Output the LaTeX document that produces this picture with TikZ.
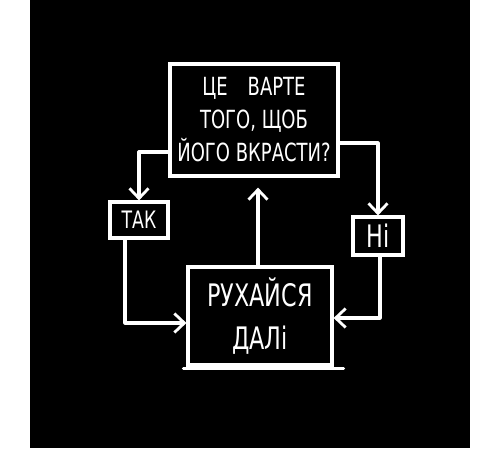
\documentclass[tikz,border=0pt]{standalone}
\usepackage{fontspec}
\setmainfont[FakeStretch=0.72]{DejaVu Sans}
\usetikzlibrary{arrows.meta}
\tikzset{
  box/.style={draw=white, line width=3.2pt, fill=black, text=white, align=center, inner sep=0pt},
  wline/.style={draw=white, line width=3.2pt, line cap=round},
  arr/.style={draw=white, line width=3.2pt, line cap=round, line join=round,
    -{Straight Barb[length=10pt,width=19pt,line width=2.8pt]}}
}
\begin{document}
\begin{tikzpicture}[x=1pt,y=-1pt]
\useasboundingbox (0,0) rectangle (500,450);
\fill[black] (30,0) rectangle (470,448);
\node[box, minimum width=168pt, minimum height=112pt, font=\fontsize{25}{33}\selectfont] (top) at (254,120)
  {ЦЕ\hspace{20pt}ВАРТЕ\\ТОГО, ЩОБ\\ЙОГО ВКРАСТИ?};
\node[box, minimum width=58pt, minimum height=36pt, font=\fontsize{24}{26}\selectfont] (tak) at (139,220) {ТАК};
\node[box, minimum width=50pt, minimum height=38pt, font=\fontsize{31}{32}\selectfont] (ni) at (378,236) {Ні};
\node[box, minimum width=144pt, minimum height=98pt, font=\fontsize{31}{43}\selectfont] (bot) at (260,316)
  {РУХАЙСЯ\\ДАЛі};
\draw[wline] ([xshift=-3pt,yshift=-2pt]bot.south west) -- ([xshift=10pt,yshift=-2pt]bot.south east);
\draw[arr] ([yshift=-32pt]top.west) -| (tak.north);
\draw[arr] ([xshift=-14pt]tak.south) |- ([yshift=-7pt]bot.west);
\draw[arr] ([yshift=-23pt]top.east) -| (ni.north);
\draw[arr] ([xshift=2pt]ni.south) |- ([yshift=-2pt]bot.east);
\draw[arr, shorten >=10pt] ([xshift=-2pt]bot.north) -- ([xshift=-2pt]bot.north |- top.south);
\end{tikzpicture}
\end{document}
